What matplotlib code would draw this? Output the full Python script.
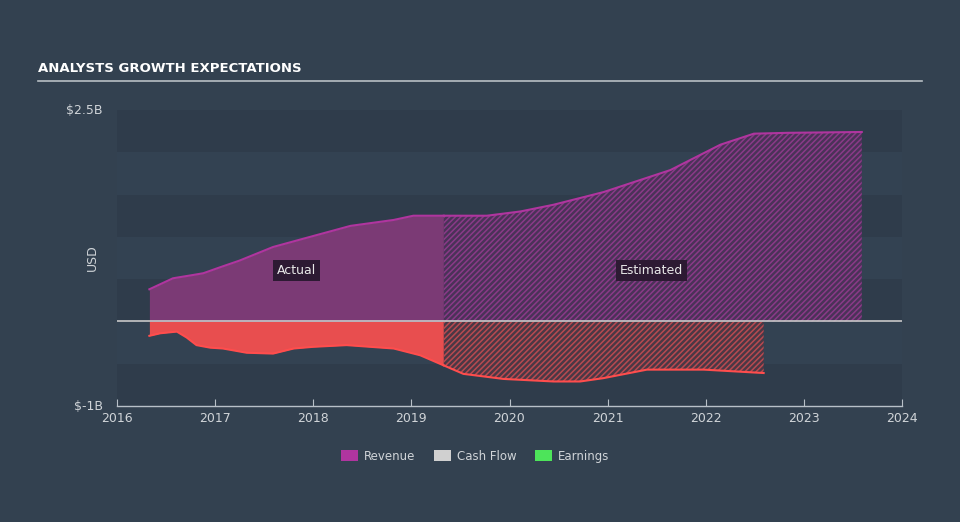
import matplotlib.pyplot as plt
from matplotlib.patches import Patch

# revenue, in billions USD
rev_actual_years = [2016.33, 2016.57, 2016.78, 2016.88, 2017.05, 2017.25, 2017.59,
                    2018.00, 2018.38, 2018.82, 2019.02, 2019.33]
rev_actual = [0.38, 0.51, 0.55, 0.57, 0.64, 0.72, 0.88, 1.01, 1.13, 1.20, 1.25, 1.25]
rev_est_years = [2019.33, 2019.77, 2020.11, 2020.45, 2020.96, 2021.64, 2022.15,
                 2022.49, 2022.83, 2023.59]
rev_est = [1.25, 1.25, 1.30, 1.38, 1.53, 1.79, 2.09, 2.22, 2.23, 2.24]

# cash flow, in billions USD
cf_actual_years = [2016.33, 2016.44, 2016.61, 2016.71, 2016.81, 2016.95, 2017.08,
                   2017.32, 2017.59, 2017.80, 2018.00, 2018.34, 2018.82, 2019.09,
                   2019.33]
cf_actual = [-0.17, -0.14, -0.12, -0.19, -0.28, -0.31, -0.32, -0.37, -0.38, -0.32,
             -0.30, -0.28, -0.32, -0.40, -0.52]
cf_est_years = [2019.33, 2019.53, 2019.94, 2020.45, 2020.72, 2020.96, 2021.40,
                2021.98, 2022.59]
cf_est = [-0.52, -0.62, -0.68, -0.71, -0.71, -0.67, -0.57, -0.57, -0.61]

year_ticks = [2016, 2017, 2018, 2019, 2020, 2021, 2022, 2023, 2024]
legend_labels = ["Revenue", "Cash Flow", "Earnings"]
legend_colors = ["#b0359f", "#d0d0d0", "#4de45a"]

BG = "#334150"
BAND_LIGHT = "#334252"
BAND_DARK = "#2f3c4b"
REV_LINE = "#b0359f"
REV_FILL = "#7b3a75"
CF_LINE = "#ff4d4d"
CF_FILL = "#e84e4f"
TEXT = "#d0d4d8"

plt.rcParams["hatch.linewidth"] = 1.1

fig = plt.figure(figsize=(9.6, 5.22), dpi=100, facecolor=BG)
ax = fig.add_axes([117 / 960, 116 / 522, 785 / 960, 296 / 522])
ax.set_facecolor(BG)
ax.set_xlim(2016, 2024)
ax.set_ylim(-1.0, 2.5)

# horizontal bands
for i in range(7):
    lo = -1.0 + i * 0.5
    ax.axhspan(lo, lo + 0.5, color=BAND_DARK if i % 2 == 0 else BAND_LIGHT,
               lw=0, zorder=0)

# actual areas
ax.fill_between(rev_actual_years, 0, rev_actual, color=REV_FILL, lw=0, zorder=2)
ax.plot(rev_actual_years, rev_actual, color=REV_LINE, lw=1.5, zorder=3)
ax.fill_between(cf_actual_years, 0, cf_actual, color=CF_FILL, lw=0, zorder=2)
ax.plot(cf_actual_years, cf_actual, color=CF_LINE, lw=1.5, zorder=3)

# estimated areas (hatched)
ax.fill_between(rev_est_years, 0, rev_est, facecolor="#4a3258", edgecolor="#8a3a88",
                hatch="//////", lw=0, zorder=2)
ax.plot(rev_est_years, rev_est, color=REV_LINE, lw=1.5, zorder=3)
ax.fill_between(cf_est_years, 0, cf_est, facecolor="#4a3845", edgecolor="#b84a50",
                hatch="//////", lw=0, zorder=2)
ax.plot(cf_est_years, cf_est, color=CF_LINE, lw=1.5, zorder=3)

ax.axhline(0, color="#c8c8c8", lw=1.2, zorder=4)

# spines and ticks
for side in ["top", "right", "left"]:
    ax.spines[side].set_visible(False)
ax.spines["bottom"].set_color("#b8c0c8")
ax.spines["bottom"].set_linewidth(1.0)
ax.set_xticks(year_ticks)
ax.set_xticklabels([str(y) for y in year_ticks])
ax.tick_params(axis="x", direction="in", length=5, color="#b8c0c8",
               labelcolor=TEXT, labelsize=9, pad=4)
ax.set_yticks([])

ax.text(-0.018, 1.0, "$2.5B", transform=ax.transAxes, ha="right", va="center",
        color=TEXT, fontsize=9)
ax.text(-0.018, 0.0, "$-1B", transform=ax.transAxes, ha="right", va="center",
        color=TEXT, fontsize=9)
ax.text(-0.032, 0.5, "USD", transform=ax.transAxes, ha="center", va="center",
        rotation=90, color=TEXT, fontsize=9)

box = dict(boxstyle="square,pad=0.3", fc="#2d1a33", ec="none")
ax.text(2017.83, 0.6, "Actual", ha="center", va="center", color="#e8e8e8",
        fontsize=9, bbox=box, zorder=6)
ax.text(2021.45, 0.6, "Estimated", ha="center", va="center", color="#e8e8e8",
        fontsize=9, bbox=box, zorder=6)

# title
fig.text(38 / 960, 1 - 68 / 522, "ANALYSTS GROWTH EXPECTATIONS", ha="left",
         va="center", color="white", fontsize=9.5, fontweight="bold")
fig.add_artist(plt.Line2D([38 / 960, 922 / 960], [1 - 81 / 522, 1 - 81 / 522],
                          color="#b8bec4", lw=1.2))

# legend
handles = [Patch(facecolor=c, edgecolor="none") for c in legend_colors]
fig.legend(handles, legend_labels, loc="center", bbox_to_anchor=(0.495, 1 - 456 / 522),
           ncol=3, frameon=False, fontsize=8.5, labelcolor=TEXT, handlelength=1.4,
           handleheight=1.0, columnspacing=1.6, handletextpad=0.5)

fig.savefig("out.png", dpi=100, facecolor=BG)
